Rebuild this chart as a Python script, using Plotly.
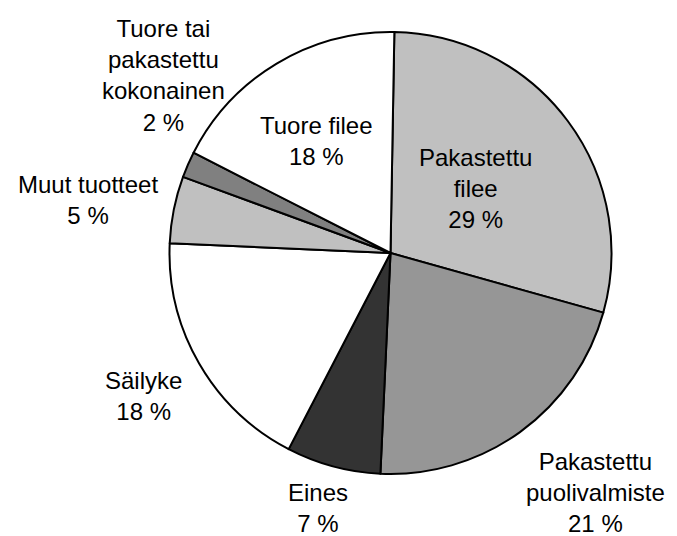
import plotly.graph_objects as go

# Data (clockwise from 12 o'clock)
categories = ["Pakastettu filee", "Pakastettu puolivalmiste", "Eines", "Säilyke",
              "Muut tuotteet", "Tuore tai pakastettu kokonainen", "Tuore filee"]
values = [29.1, 21.4, 6.9, 18.1, 4.9, 1.9, 17.8]
label_texts = ["Pakastettu<br>filee<br>29 %",
               "Pakastettu<br>puolivalmiste<br>21 %",
               "Eines<br>7 %",
               "Säilyke<br>18 %",
               "Muut tuotteet<br>5 %",
               "Tuore tai<br>pakastettu<br>kokonainen<br>2 %",
               "Tuore filee<br>18 %"]

colors = ["#c0c0c0", "#969696", "#333333", "#ffffff", "#c0c0c0", "#808080", "#ffffff"]

W, H = 677, 536
# label centre positions in pixels
label_px = [(475, 188), (595, 492), (318, 508), (143, 396), (88, 200), (163, 76), (316, 141)]

fig = go.Figure(go.Pie(
    labels=categories,
    values=values,
    sort=False,
    direction="clockwise",
    rotation=1,
    marker=dict(colors=colors, line=dict(color="#000000", width=2)),
    textinfo="none",
    hoverinfo="label+percent",
    showlegend=False,
    domain=dict(x=[169.5 / W, 611.5 / W], y=[1 - 474 / H, 1 - 32 / H]),
))

for txt, (px, py) in zip(label_texts, label_px):
    fig.add_annotation(
        x=px / W, y=1 - py / H, xref="paper", yref="paper",
        text=txt, showarrow=False, xanchor="center", yanchor="middle",
        align="center",
        font=dict(family="Liberation Sans, Arial, sans-serif", size=24, color="#000000"),
    )

fig.update_layout(
    width=W, height=H,
    margin=dict(l=0, r=0, t=0, b=0),
    paper_bgcolor="#ffffff",
    plot_bgcolor="#ffffff",
)

fig.write_html("out.html",
               config={"displayModeBar": False},
               post_script="document.body.style.margin='0';document.body.style.overflow='hidden';")
